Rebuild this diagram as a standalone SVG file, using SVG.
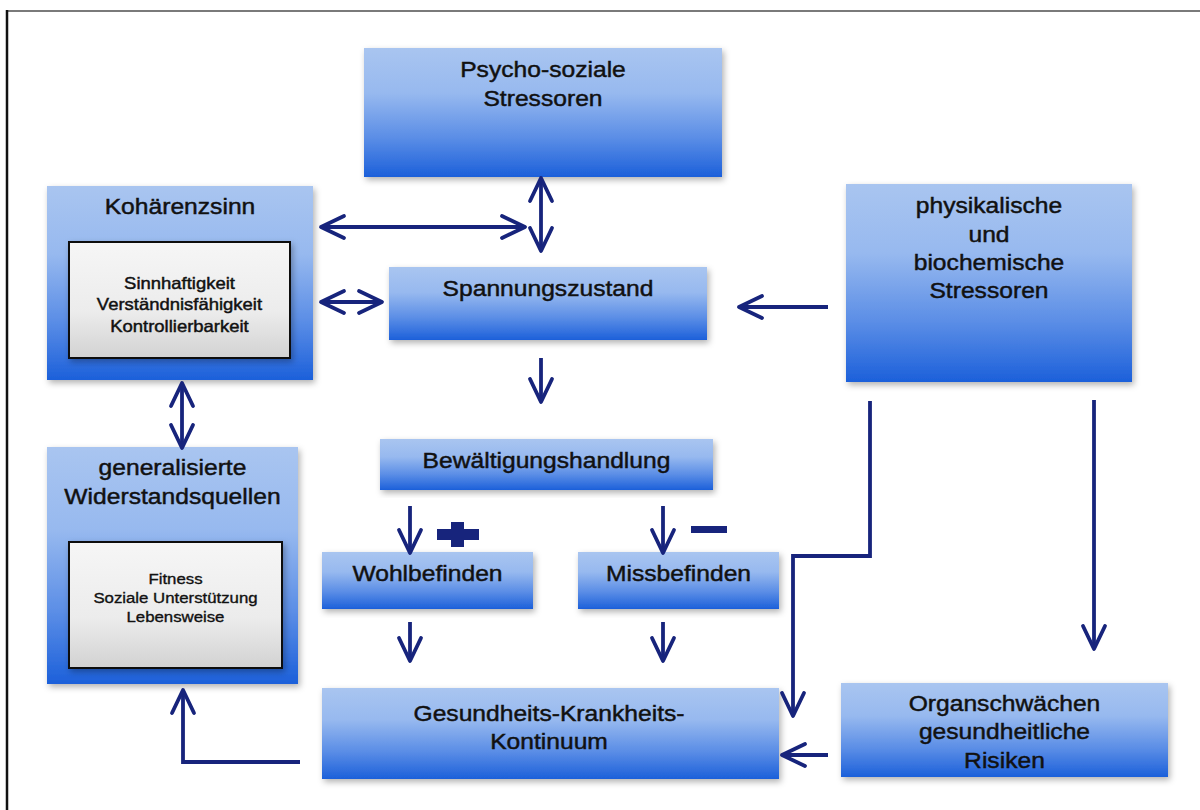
<svg xmlns="http://www.w3.org/2000/svg" width="1200" height="810" viewBox="0 0 1200 810">
  <defs>
    <linearGradient id="boxFill" x1="0" y1="0" x2="0" y2="1">
      <stop offset="0" stop-color="#a9c5f0"/>
      <stop offset="0.35" stop-color="#97b9ef"/>
      <stop offset="0.7" stop-color="#5a8de6"/>
      <stop offset="1" stop-color="#1c60da"/>
    </linearGradient>
    <linearGradient id="innerFill" x1="0" y1="0" x2="0" y2="1">
      <stop offset="0" stop-color="#f6f6f6"/>
      <stop offset="0.6" stop-color="#ececec"/>
      <stop offset="1" stop-color="#d2d2d2"/>
    </linearGradient>
    <filter id="shadow" x="-10%" y="-10%" width="120%" height="125%">
      <feDropShadow dx="2" dy="3" stdDeviation="3" flood-color="#000" flood-opacity="0.3"/>
    </filter>
    <marker id="head" viewBox="-30 -15 34 30" refX="0" refY="0" markerWidth="34" markerHeight="30" markerUnits="userSpaceOnUse" orient="auto-start-reverse" overflow="visible">
      <path d="M-23,-11 L0,0 L-23,11" fill="none" stroke="#17247c" stroke-width="3.8" stroke-linecap="round" stroke-linejoin="round"/>
    </marker>
  </defs>
  <style>
    .box { fill: url(#boxFill); filter: url(#shadow); }
    .inner { fill: url(#innerFill); stroke: #111; stroke-width: 2; filter: url(#shadow); }
    text { font-family: "Liberation Sans", Arial, sans-serif; fill: #111; stroke: #111; stroke-width: 0.45; text-anchor: middle;
           transform-box: fill-box; transform-origin: center; transform: scaleX(1.12); }
    .lbl { font-size: 22px; }
    .sm1 { font-size: 16.5px; }
    .sm2 { font-size: 15px; stroke-width: 0.35; }
    .conn path { fill: none; stroke: #17247c; stroke-width: 3.8; stroke-linejoin: miter; }
    .sign { fill: #17247c; }
  </style>

  <rect width="1200" height="810" fill="#fff"/>
  <!-- page frame -->
  <line x1="6" y1="11" x2="1200" y2="11" stroke="#7a7a7a" stroke-width="2"/>
  <line x1="7" y1="10" x2="7" y2="810" stroke="#111" stroke-width="2.5"/>

  <g id="psycho">
    <rect class="box" x="364" y="48" width="358" height="129"/>
    <text class="lbl" x="543" y="77">Psycho-soziale</text>
    <text class="lbl" x="543" y="106">Stressoren</text>
  </g>

  <g id="kohaerenz">
    <rect class="box" x="47" y="186" width="266" height="194"/>
    <text class="lbl" x="180" y="214">Kohärenzsinn</text>
    <rect class="inner" x="69" y="242" width="221" height="116"/>
    <text class="sm1" x="179.5" y="289">Sinnhaftigkeit</text>
    <text class="sm1" x="179.5" y="310">Verständnisfähigkeit</text>
    <text class="sm1" x="179.5" y="332">Kontrollierbarkeit</text>
  </g>

  <g id="spannung">
    <rect class="box" x="389" y="267" width="318" height="73"/>
    <text class="lbl" x="548" y="296">Spannungszustand</text>
  </g>

  <g id="physikalisch">
    <rect class="box" x="846" y="184" width="286" height="198"/>
    <text class="lbl" x="989" y="213">physikalische</text>
    <text class="lbl" x="989" y="242">und</text>
    <text class="lbl" x="989" y="270">biochemische</text>
    <text class="lbl" x="989" y="298">Stressoren</text>
  </g>

  <g id="bewaeltigung">
    <rect class="box" x="380" y="439" width="333" height="51"/>
    <text class="lbl" x="546.5" y="468">Bewältigungshandlung</text>
  </g>

  <g id="wohlbefinden">
    <rect class="box" x="322" y="552" width="211" height="57"/>
    <text class="lbl" x="427.5" y="581">Wohlbefinden</text>
  </g>

  <g id="missbefinden">
    <rect class="box" x="578" y="552" width="201" height="57"/>
    <text class="lbl" x="678.5" y="581">Missbefinden</text>
  </g>

  <g id="widerstand">
    <rect class="box" x="47" y="447" width="251" height="237"/>
    <text class="lbl" x="172.5" y="475">generalisierte</text>
    <text class="lbl" x="172.5" y="504">Widerstandsquellen</text>
    <rect class="inner" x="69" y="542" width="213" height="126"/>
    <text class="sm2" x="175.5" y="584">Fitness</text>
    <text class="sm2" x="175.5" y="603">Soziale Unterstützung</text>
    <text class="sm2" x="175.5" y="622">Lebensweise</text>
  </g>

  <g id="kontinuum">
    <rect class="box" x="322" y="688" width="457" height="91"/>
    <text class="lbl" x="549" y="721">Gesundheits-Krankheits-</text>
    <text class="lbl" x="549" y="749">Kontinuum</text>
  </g>

  <g id="organ">
    <rect class="box" x="841" y="683" width="327" height="94"/>
    <text class="lbl" x="1004.5" y="711">Organschwächen</text>
    <text class="lbl" x="1004.5" y="739">gesundheitliche</text>
    <text class="lbl" x="1004.5" y="768">Risiken</text>
  </g>

  <g id="connectors" class="conn">
    <path d="M321,227 L525,227" marker-start="url(#head)" marker-end="url(#head)"/>
    <path d="M541,178 L541,251" marker-start="url(#head)" marker-end="url(#head)"/>
    <path d="M321,302 L382,302" marker-start="url(#head)" marker-end="url(#head)"/>
    <path d="M182,383 L182,448" marker-start="url(#head)" marker-end="url(#head)"/>
    <path d="M828,307 L739,307" marker-end="url(#head)"/>
    <path d="M541,358 L541,402" marker-end="url(#head)"/>
    <path d="M410,506 L410,553" marker-end="url(#head)"/>
    <path d="M663,506 L663,553" marker-end="url(#head)"/>
    <path d="M410,622 L410,661" marker-end="url(#head)"/>
    <path d="M663,622 L663,661" marker-end="url(#head)"/>
    <path d="M870,401 L870,556 L793,556 L793,716" marker-end="url(#head)"/>
    <path d="M1094,400 L1094,649" marker-end="url(#head)"/>
    <path d="M828,755 L782,755" marker-end="url(#head)"/>
    <path d="M300,762 L183,762 L183,690" marker-end="url(#head)"/>
  </g>

  <g id="signs">
    <!-- plus -->
    <rect class="sign" x="437" y="529" width="42" height="11"/>
    <rect class="sign" x="451" y="522" width="13" height="25"/>
    <!-- minus -->
    <rect class="sign" x="691" y="526" width="36" height="7"/>
  </g>
</svg>
